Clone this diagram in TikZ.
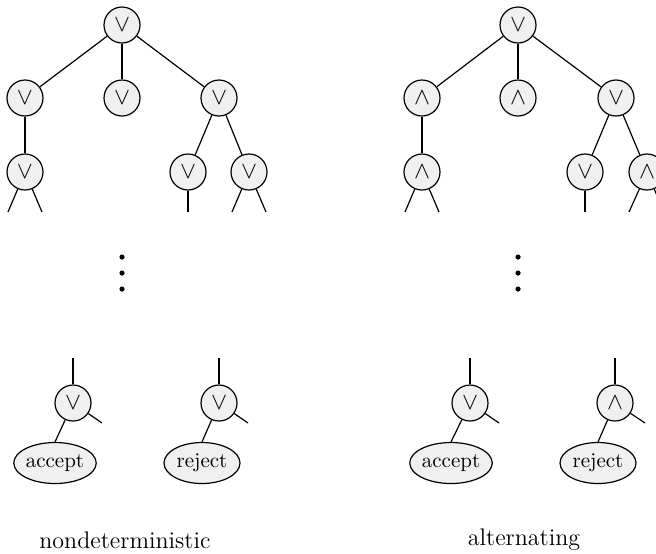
\documentclass[tikz,border=0pt]{standalone}
\usetikzlibrary{shapes.geometric, positioning}

\begin{document}
\begin{tikzpicture}[x=0.5pt, y=-0.5pt,
  gate/.style={circle, draw, fill=gray!12, line width=0.6pt, minimum size=18pt, inner sep=0pt, font=\large},
  halt/.style={ellipse, draw, fill=gray!12, line width=0.6pt, minimum width=38pt, minimum height=20.5pt, inner xsep=0pt, inner ysep=1pt, font=\fontsize{10.5}{12}\selectfont},
  edge/.style={line width=0.6pt},
  dot/.style={circle, fill=black, inner sep=0pt, minimum size=2.6pt}]
  \clip (0,0) rectangle (656,553);

  % nondeterministic
  \node[gate] (nr) at (122,25) {$\vee$};
  \node[gate] (na) at (25,98) {$\vee$};
  \node[gate] (nb) at (122,98) {$\vee$};
  \node[gate] (nc) at (219,98) {$\vee$};
  \node[gate] (nd) at (25,172) {$\vee$};
  \node[gate] (ne) at (188,172) {$\vee$};
  \node[gate] (nf) at (249,172) {$\vee$};
  \coordinate (nd1) at (8,212);
  \coordinate (nd2) at (42,212);
  \coordinate (ne1) at (188,212);
  \coordinate (nf1) at (232,212);
  \coordinate (nf2) at (266,212);
  \draw[edge] (nr) -- (na);
  \draw[edge] (nr) -- (nb);
  \draw[edge] (nr) -- (nc);
  \draw[edge] (na) -- (nd);
  \draw[edge] (nc) -- (ne);
  \draw[edge] (nc) -- (nf);
  \draw[edge] (nd) -- (nd1);
  \draw[edge] (nd) -- (nd2);
  \draw[edge] (ne) -- (ne1);
  \draw[edge] (nf) -- (nf1);
  \draw[edge] (nf) -- (nf2);
  \node[dot] (ndot1) at (122,257) {};
  \node[dot] (ndot2) at (122,273) {};
  \node[dot] (ndot3) at (122,289) {};

  \coordinate (ngtop) at (73,358);
  \node[gate] (ng) at (73,403) {$\vee$};
  \coordinate (ngside) at (102,423);
  \node[halt] (nacc) at (55,463) {accept};
  \coordinate (nhtop) at (219,358);
  \node[gate] (nh) at (219,403) {$\vee$};
  \coordinate (nhside) at (248,423);
  \node[halt] (nrej) at (202,463) {reject};
  \draw[edge] (ngtop) -- (ng);
  \draw[edge] (ng) -- (ngside);
  \draw[edge] (ng) -- (nacc.north);
  \draw[edge] (nhtop) -- (nh);
  \draw[edge] (nh) -- (nhside);
  \draw[edge] (nh) -- (nrej.north);
  \node[font=\large] (nlabel) at (125,540) {nondeterministic};

  % alternating
  \node[gate] (ar) at (518,25) {$\vee$};
  \node[gate] (aa) at (422,98) {$\wedge$};
  \node[gate] (ab) at (518,98) {$\wedge$};
  \node[gate] (ac) at (616,98) {$\vee$};
  \node[gate] (ad) at (422,172) {$\wedge$};
  \node[gate] (ae) at (585,172) {$\vee$};
  \node[gate] (af) at (647,172) {$\wedge$};
  \coordinate (ad1) at (405,212);
  \coordinate (ad2) at (439,212);
  \coordinate (ae1) at (585,212);
  \coordinate (af1) at (629,212);
  \coordinate (af2) at (664,212);
  \draw[edge] (ar) -- (aa);
  \draw[edge] (ar) -- (ab);
  \draw[edge] (ar) -- (ac);
  \draw[edge] (aa) -- (ad);
  \draw[edge] (ac) -- (ae);
  \draw[edge] (ac) -- (af);
  \draw[edge] (ad) -- (ad1);
  \draw[edge] (ad) -- (ad2);
  \draw[edge] (ae) -- (ae1);
  \draw[edge] (af) -- (af1);
  \draw[edge] (af) -- (af2);
  \node[dot] (adot1) at (518,257) {};
  \node[dot] (adot2) at (518,273) {};
  \node[dot] (adot3) at (518,289) {};

  \coordinate (agtop) at (470,358);
  \node[gate] (ag) at (470,403) {$\vee$};
  \coordinate (agside) at (499,423);
  \node[halt] (aacc) at (451,463) {accept};
  \coordinate (ahtop) at (615,358);
  \node[gate] (ah) at (615,403) {$\wedge$};
  \coordinate (ahside) at (645,423);
  \node[halt] (arej) at (598,463) {reject};
  \draw[edge] (agtop) -- (ag);
  \draw[edge] (ag) -- (agside);
  \draw[edge] (ag) -- (aacc.north);
  \draw[edge] (ahtop) -- (ah);
  \draw[edge] (ah) -- (ahside);
  \draw[edge] (ah) -- (arej.north);
  \node[font=\large] (alabel) at (524,540) {alternating};
\end{tikzpicture}
\end{document}
